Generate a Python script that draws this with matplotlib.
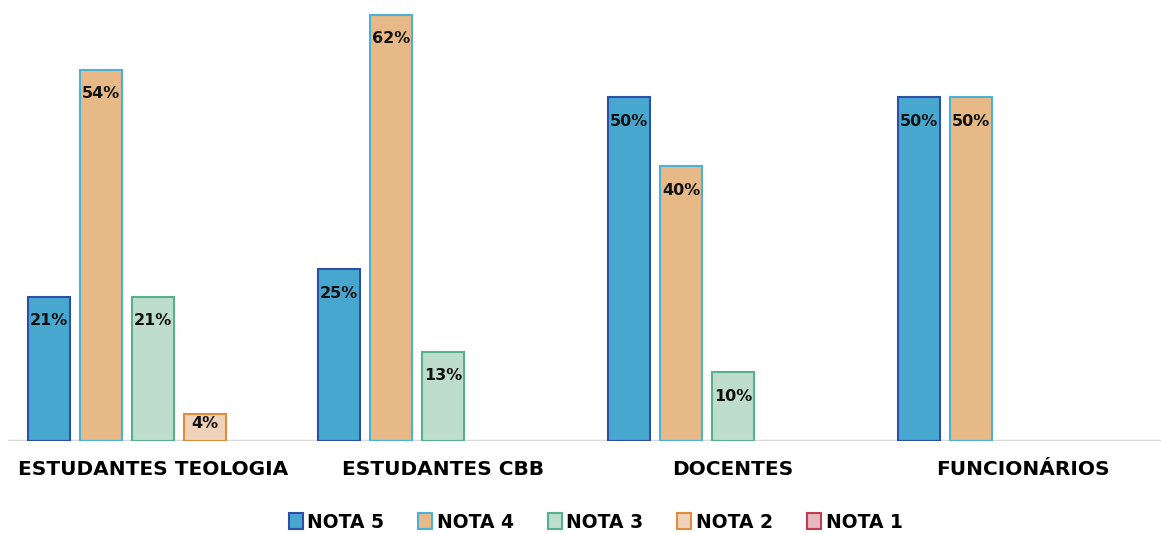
import numpy as np
import matplotlib.pyplot as plt
from matplotlib.patches import Patch

# dados
categorias = ["ESTUDANTES TEOLOGIA", "ESTUDANTES CBB", "DOCENTES", "FUNCIONÁRIOS"]
series = ["NOTA 5", "NOTA 4", "NOTA 3", "NOTA 2", "NOTA 1"]
nota5 = [21, 25, 50, 50]
nota4 = [54, 62, 40, 50]
nota3 = [21, 13, 10, 0]
nota2 = [4, 0, 0, 0]
nota1 = [0, 0, 0, 0]
valores = [nota5, nota4, nota3, nota2, nota1]

cores = ["#48A7CF", "#E6B986", "#BEDDCC", "#F0D1B9", "#E6B9BF"]
bordas = ["#2D4FA6", "#4DB0D8", "#57B18C", "#DE8E3A", "#C03E50"]

fig = plt.figure(figsize=(11.61, 5.34), dpi=100)
ax = fig.add_axes([8 / 1161, 1 - 441 / 534, 1153 / 1161, 433 / 534])

x = np.arange(len(categorias))
largura = 0.145
passo = 0.179

for i, (vals, cor, borda) in enumerate(zip(valores, cores, bordas)):
    pos = x + (i - 2) * passo
    for p, v in zip(pos, vals):
        if v <= 0:
            continue  # barras com valor zero não aparecem
        ax.bar(p, v, width=largura, color=cor, edgecolor=borda, linewidth=1.5, zorder=2)
        # rótulo dentro do topo da barra
        y = max(v - 3.5, v / 2 + 0.6)
        ax.text(p, y, f"{v}%", ha="center", va="center", fontsize=11.5,
                fontweight="bold", color="#111111", zorder=3)

ax.axhline(0, color="#D9D9D9", linewidth=2.5, zorder=1)
ax.set_xlim(-0.5, 3.476)
ax.set_ylim(0, 63)
for s in ax.spines.values():
    s.set_visible(False)
ax.set_yticks([])
ax.set_xticks(x)
ax.set_xticklabels(categorias, fontsize=14.5, fontweight="bold")
ax.tick_params(axis="x", length=0, pad=14)

handles = [Patch(facecolor=c, edgecolor=b, linewidth=1.5, label=s)
           for s, c, b in zip(series, cores, bordas)]
fig.legend(handles=handles, loc="center", bbox_to_anchor=(0.513, 1 - 522 / 534),
           ncol=5, frameon=False, prop={"weight": "bold", "size": 13.5},
           handlelength=0.75, handleheight=0.9, handletextpad=0.25, columnspacing=1.8)

fig.savefig("out.png", dpi=100)
